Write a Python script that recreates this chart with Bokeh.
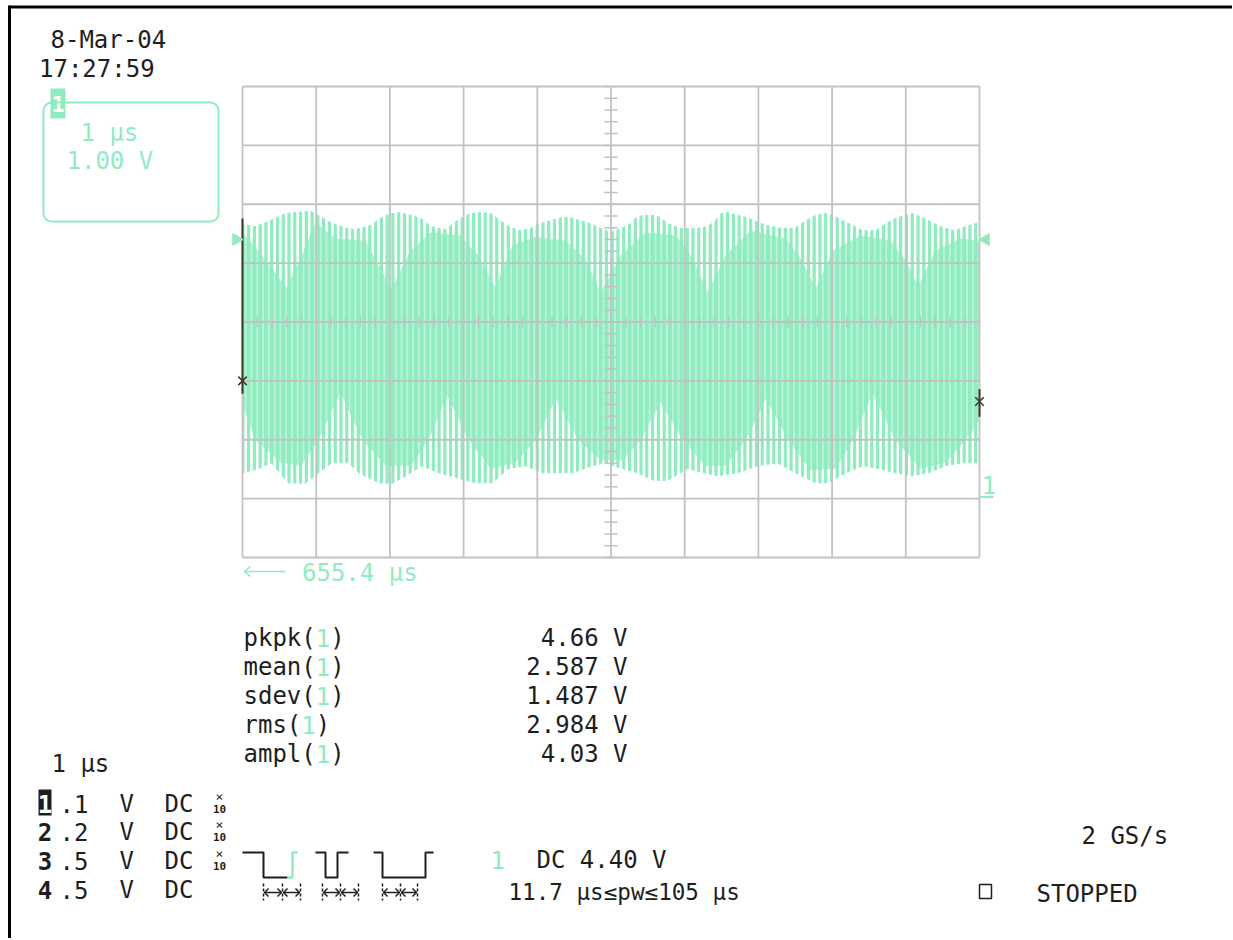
import numpy as np
from bokeh.plotting import figure
from bokeh.models import Range1d, BoxAnnotation
from bokeh.core.properties import value
from bokeh.embed import file_html
from bokeh.resources import INLINE

x_div_ticks_us = [0, 1, 2, 3, 4, 5, 6, 7, 8, 9, 10]        # 1 us / div
y_div_ticks_v = [-1, 0, 1, 2, 3, 4, 5, 6, 7]              # 1.00 V / div, ground 1 div above bottom

# outer envelope of the trace (tops / bottoms of the carrier cycles)
env_top_t = [0.00, 0.18, 0.31, 0.45, 0.58, 0.72, 0.92, 1.03, 1.19, 1.40, 1.53, 1.74, 1.87, 2.01, 2.14,
             2.28, 2.42, 2.55, 2.75, 2.96, 3.09, 3.23, 3.37, 3.50, 3.64, 3.77, 3.91, 4.04, 4.18, 4.32,
             4.45, 4.59, 4.72, 4.86, 4.99, 5.16, 5.27, 5.33, 5.43, 5.60, 5.67, 5.77, 5.94, 6.17, 6.31,
             6.42, 6.49, 6.58, 6.72, 6.85, 6.99, 7.12, 7.30, 7.50, 7.64, 7.78, 7.91, 8.02, 8.14, 8.28,
             8.41, 8.59, 8.73, 8.86, 9.00, 9.09, 9.23, 9.36, 9.50, 9.67, 9.81, 10.00]
env_top_v = [4.65, 4.62, 4.69, 4.76, 4.84, 4.86, 4.88, 4.81, 4.69, 4.59, 4.57, 4.64, 4.76, 4.84, 4.86,
             4.81, 4.76, 4.62, 4.57, 4.76, 4.84, 4.86, 4.84, 4.72, 4.60, 4.55, 4.59, 4.67, 4.72, 4.77,
             4.77, 4.72, 4.67, 4.59, 4.52, 4.60, 4.67, 4.76, 4.81, 4.81, 4.77, 4.67, 4.59, 4.59, 4.62,
             4.72, 4.84, 4.86, 4.81, 4.77, 4.69, 4.64, 4.59, 4.59, 4.72, 4.81, 4.84, 4.81, 4.72, 4.64,
             4.55, 4.55, 4.67, 4.76, 4.81, 4.84, 4.77, 4.69, 4.60, 4.55, 4.62, 4.69]
env_bot_t = [0.00, 0.22, 0.39, 0.62, 0.85, 1.03, 1.21, 1.44, 1.58, 1.85, 2.03, 2.22, 2.43, 2.66, 3.16,
             3.39, 3.61, 3.84, 4.07, 4.48, 4.75, 4.92, 5.02, 5.36, 5.58, 5.77, 6.04, 6.26, 6.45, 6.72,
             6.99, 7.26, 7.50, 7.78, 7.95, 8.19, 8.42, 8.63, 8.86, 9.09, 9.31, 9.54, 9.77, 10.00]
env_bot_v = [0.44, 0.51, 0.61, 0.27, 0.26, 0.44, 0.61, 0.61, 0.44, 0.27, 0.26, 0.39, 0.56, 0.44, 0.27,
             0.27, 0.51, 0.56, 0.44, 0.44, 0.56, 0.61, 0.56, 0.44, 0.31, 0.31, 0.51, 0.44, 0.39, 0.44,
             0.56, 0.61, 0.44, 0.27, 0.27, 0.44, 0.56, 0.51, 0.44, 0.39, 0.44, 0.56, 0.61, 0.61]

# dense core of the trace where the cycles overlap
core_top_t = [0.00, 0.27, 0.60, 0.83, 0.99, 1.26, 1.67, 2.02, 2.28, 2.55, 2.96, 3.20, 3.43, 3.66, 3.98,
              4.38, 4.65, 4.86, 5.13, 5.47, 5.88, 6.11, 6.31, 6.55, 6.89, 7.37, 7.57, 7.78, 8.01, 8.39,
              8.79, 9.00, 9.17, 9.40, 9.74, 10.00]
core_top_v = [4.52, 4.13, 3.58, 4.21, 4.69, 4.42, 4.38, 3.57, 4.21, 4.52, 4.47, 4.13, 3.58, 4.30, 4.45,
              4.38, 4.08, 3.50, 4.13, 4.52, 4.47, 4.08, 3.50, 4.13, 4.55, 4.42, 4.08, 3.58, 4.21, 4.47,
              4.38, 4.04, 3.62, 4.21, 4.42, 4.38]
core_bot_t = [0.00, 0.18, 0.52, 0.79, 1.03, 1.33, 1.63, 1.94, 2.28, 2.52, 2.78, 3.07, 3.37, 3.70, 3.98,
              4.25, 4.56, 4.86, 5.16, 5.40, 5.67, 5.98, 6.28, 6.55, 6.83, 7.10, 7.41, 7.71, 8.05, 8.28,
              8.55, 8.86, 9.20, 9.54, 9.81, 10.00]
core_bot_v = [1.58, 0.99, 0.61, 0.56, 0.99, 1.80, 0.99, 0.56, 0.56, 0.99, 1.75, 0.99, 0.51, 0.61, 0.99,
              1.70, 0.99, 0.65, 0.65, 0.99, 1.63, 0.99, 0.56, 0.56, 0.99, 1.70, 0.99, 0.48, 0.51, 0.99,
              1.80, 0.99, 0.51, 0.61, 0.99, 1.33]

trigger_level_v = 4.40
trace_start_v = 2.00
trace_start_bar_v = [4.76, 1.78]
trace_end_v = 1.65
trace_end_bar_v = [1.86, 1.39]

meas_names = ["pkpk", "mean", "sdev", "rms", "ampl"]
meas_values = ["4.66 V", "2.587 V", "1.487 V", "2.984 V", "4.03 V"]

ch_ids = ["1", "2", "3", "4"]
ch_scales = [".1", ".2", ".5", ".5"]
ch_units = ["V", "V", "V", "V"]
ch_coupling = ["DC", "DC", "DC", "DC"]
ch_probe_x10 = [True, True, True, False]

date_text = "8-Mar-04"
time_text = "17:27:59"
tb_text = "1 µs"
vdiv_text = "1.00 V"
delay_text = "655.4 µs"
trig_text = "DC 4.40 V"
pw_text = "11.7 µs≤pw≤105 µs"
rate_text = "2 GS/s"
state_text = "STOPPED"

# ---------------- styling / layout ----------------
GREEN = "#8FECBF"
GRID = "#C2C2C2"
INK = "#1E1E1E"
MARK = "#3A3A2C"
FONT = value("DejaVu Sans Mono")

W, H = 1232, 938
X0, Y0 = 0, 0                       # default ranges are page pixels
GL, GR, GT, GB = 242, 979, 86, 557  # screen graticule in page pixels

t_min, t_max = x_div_ticks_us[0], x_div_ticks_us[-1]
v_min, v_max = y_div_ticks_v[0], y_div_ticks_v[-1]
px_us = (GR - GL) / (t_max - t_min)
px_v = (GB - GT) / (v_max - v_min)

p = figure(width=W, height=H, output_backend="svg", toolbar_location=None,
           x_range=Range1d(X0, X0 + W), y_range=Range1d(Y0 + H, Y0),
           x_axis_location=None, y_axis_location=None, min_border=0,
           outline_line_color=None, background_fill_color="white",
           border_fill_color="white")
p.grid.visible = False
p.extra_x_ranges = {"us": Range1d(t_min - (GL - X0) / px_us, t_max + (X0 + W - GR) / px_us)}
p.extra_y_ranges = {"v": Range1d(v_min - (Y0 + H - GB) / px_v, v_max + (GT - Y0) / px_v)}
S = dict(x_range_name="us", y_range_name="v")

# ---- trace ----
p.patch(env_top_t + env_bot_t[::-1], env_top_v + env_bot_v[::-1],
        fill_color=GREEN, line_color=GREEN, line_width=1, **S)
period = 0.0783
gap_c = np.arange(0.044, t_max, period)
stripe_top = max(env_top_v) + 0.2
stripe_bot = min(env_bot_v) - 0.2
p.quad(left=gap_c - 0.017, right=gap_c + 0.017, top=stripe_top, bottom=stripe_bot,
       fill_color="white", line_color=None, **S)
p.patch(core_top_t + core_bot_t[::-1], core_top_v + core_bot_v[::-1],
        fill_color=GREEN, line_color=None, **S)
# faint cycle structure still visible inside the dense core
p.quad(left=gap_c - 0.012, right=gap_c + 0.012, top=stripe_top, bottom=stripe_bot,
       fill_color="white", fill_alpha=0.4, line_color=None, **S)

# ---- graticule ----
p.segment(x0=x_div_ticks_us, x1=x_div_ticks_us, y0=v_min, y1=v_max,
          line_color=GRID, line_width=1.8, **S)
p.segment(x0=t_min, x1=t_max, y0=y_div_ticks_v, y1=y_div_ticks_v,
          line_color=GRID, line_width=1.8, **S)
t_c = (t_min + t_max) / 2
v_c = (v_min + v_max) / 2
vminor = np.arange(v_min, v_max + 0.001, 0.2)
tminor = np.arange(t_min, t_max + 0.001, 0.2)
p.segment(x0=t_c - 0.09, x1=t_c + 0.09, y0=vminor, y1=vminor, line_color=GRID, line_width=1.5, **S)
p.segment(x0=tminor, x1=tminor, y0=v_c - 0.09, y1=v_c + 0.09, line_color=GRID, line_width=1.5, **S)

# ---- markers on the screen ----
p.segment(x0=[t_min], x1=[t_min], y0=[trace_start_bar_v[0]], y1=[trace_start_bar_v[1]],
          line_color=MARK, line_width=2, **S)
p.segment(x0=[t_max], x1=[t_max], y0=[trace_end_bar_v[0]], y1=[trace_end_bar_v[1]],
          line_color=MARK, line_width=2, **S)
p.scatter(x=[t_min, t_max], y=[trace_start_v, trace_end_v], marker="x", size=12,
          line_color=MARK, line_width=1.5, **S)
p.scatter(x=[t_min - 0.085], y=[trigger_level_v], marker="triangle", angle=-np.pi / 2,
          size=12, fill_color=GREEN, line_color=GREEN, **S)
p.scatter(x=[t_max + 0.085], y=[trigger_level_v], marker="triangle", angle=np.pi / 2,
          size=12, fill_color=GREEN, line_color=GREEN, **S)
p.segment(x0=[t_max], x1=[t_max + 0.19], y0=[0.03], y1=[0.03], line_color=GREEN, line_width=2, **S)
p.text(x=[t_max + 0.03], y=[0.08], text=["1"], text_color=GREEN, text_font=FONT,
       text_font_size="24px", text_baseline="bottom", **S)


# ---------------- text helpers (page pixels) ----------------
def put(x, y, s, color=INK, size="24px", align="left", bold=False):
    p.text(x=[x], y=[y + 1.5], text=[s], text_color=color, text_font=FONT,
           text_font_size=size, text_align=align, text_baseline="middle",
           text_font_style="bold" if bold else "normal")


ADV = 0.602 * 24

# frame border
p.line([9, 9], [5, Y0 + H], line_color="black", line_width=3)
p.line([9, X0 + W], [6.5, 6.5], line_color="black", line_width=3)

put(50, 38, date_text)
put(38.5, 67, time_text)

# channel descriptor box
p.add_layout(BoxAnnotation(left=43, right=218, top=102, bottom=221, fill_alpha=0,
                           line_color=GREEN, line_width=2, line_alpha=1, border_radius=8))
p.quad(left=[50], right=[65], top=[88], bottom=[118], fill_color=GREEN, line_color=None)
put(57.5, 102, ch_ids[0], color="white", size="22px", align="center", bold=True)
put(80, 131, tb_text, color=GREEN)
put(66, 159, vdiv_text, color=GREEN)

# delay
p.line([244, 285], [571, 571], line_color=GREEN, line_width=1.5)
p.line([250, 244, 250], [566, 571, 576], line_color=GREEN, line_width=1.5)
put(301.5, 571, delay_text, color=GREEN)

# measurements
for i, (nm, vl) in enumerate(zip(meas_names, meas_values)):
    y = 636 + 29 * i
    put(243, y, nm + "( )")
    put(243 + (len(nm) + 1) * ADV, y, "1", color=GREEN)
    put(627, y, vl, align="right")

# timebase + channel table
put(51, 762, tb_text)
ch_y = [802, 830, 859, 888]
for i, yy in enumerate(ch_y):
    if i == 0:
        p.quad(left=[38], right=[51], top=[yy - 13], bottom=[yy + 13], fill_color=INK, line_color=None)
        put(44.5, yy, ch_ids[i], color="white", align="center", bold=True)
    else:
        put(44.5, yy, ch_ids[i], align="center", bold=True)
    put(59, yy, ch_scales[i])
    put(119, yy, ch_units[i])
    put(164, yy, ch_coupling[i])
    if ch_probe_x10[i]:
        put(219, yy - 8, "×", size="13px", align="center")
        put(219, yy + 5, "10", size="11px", align="center", bold=True)

# trigger icons
p.multi_line([[242, 263, 263, 287], [315, 325, 325, 337, 337, 348], [373, 382, 382, 425, 425, 433]],
             [[852, 852, 877, 877], [852, 852, 877, 877, 852, 852], [852, 852, 877, 877, 852, 852]],
             line_color=INK, line_width=2)
p.line([287, 292, 292, 297], [877, 877, 852, 852], line_color=GREEN, line_width=2.5)
for g in [(263, 282, 300), (322, 340, 358), (382, 400, 417)]:
    p.multi_line([[gx, gx] for gx in g], [[883, 900]] * 3, line_color=INK, line_width=1.5,
                 line_dash="3 2")
    for a, b in [(g[0], g[1]), (g[1], g[2])]:
        p.line([a + 1, b - 1], [892, 892], line_color=INK, line_width=1.5)
        p.line([a + 5, a + 1, a + 5], [888, 892, 896], line_color=INK, line_width=1.5)
        p.line([b - 5, b - 1, b - 5], [888, 892, 896], line_color=INK, line_width=1.5)

put(490, 858, ch_ids[0], color=GREEN)
put(536, 858, trig_text)
put(508, 890, pw_text, size="22.6px")

put(1081, 834, rate_text)
p.quad(left=[979], right=[991], top=[884], bottom=[898], fill_color=None, line_color=INK, line_width=1.5)
put(1036, 892, state_text)

open("out.html", "w").write(file_html(p, INLINE))
